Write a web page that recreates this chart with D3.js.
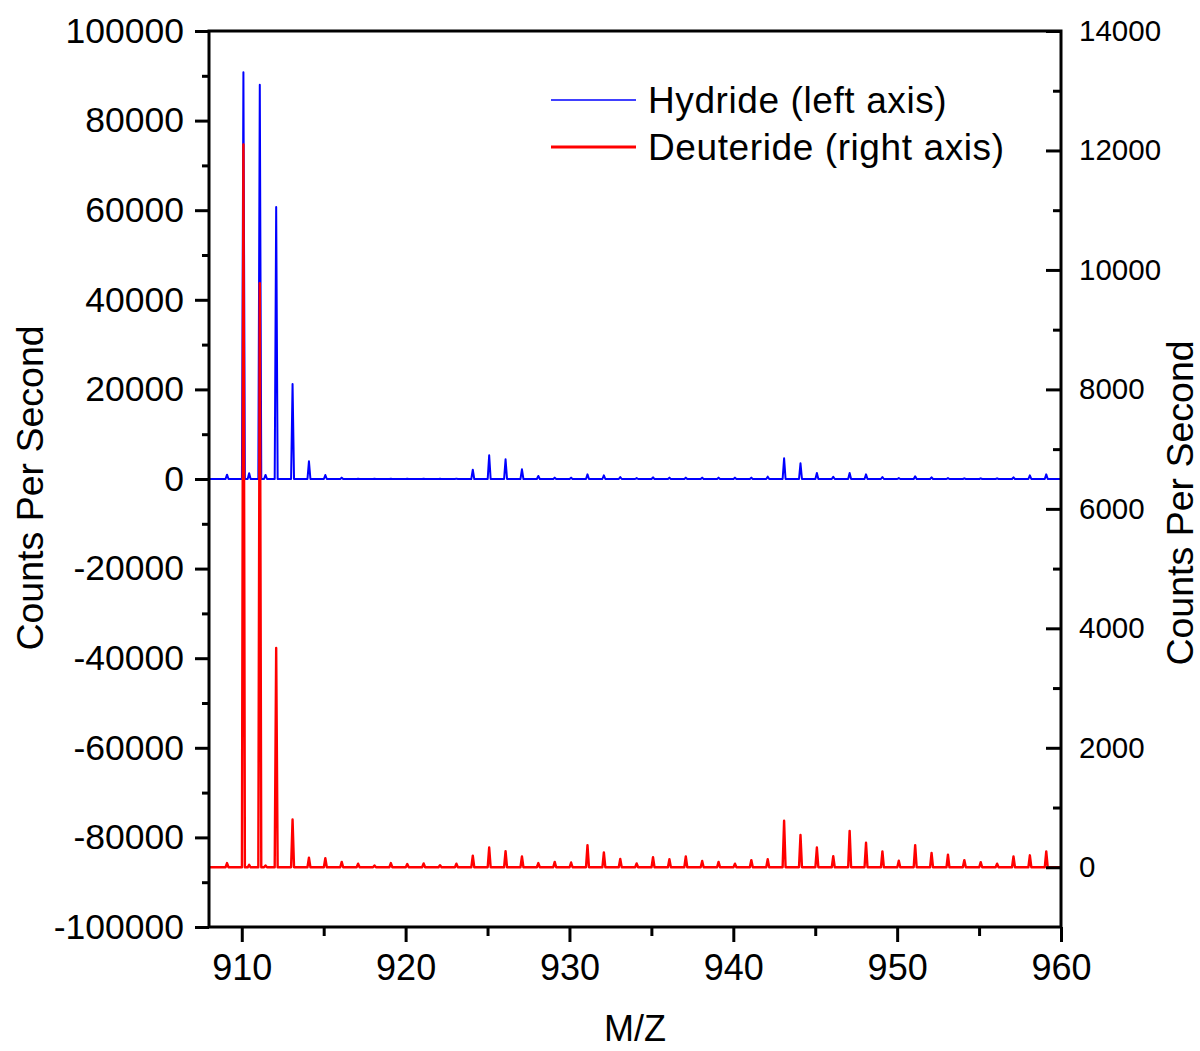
<!DOCTYPE html>
<html><head><meta charset="utf-8">
<script src="https://cdn.jsdelivr.net/npm/d3@7"></script>
<style>
body{margin:0;background:#fff;}
svg text{font-family:"Liberation Sans",Arial,sans-serif;fill:#000;}
</style></head>
<body><svg id="chart" width="1200" height="1051"></svg>
<script>
// Hydride peaks (m/z, counts per second) - left axis
const hydrideMz = [909.1,910.1,910.45,911.1,911.45,912.1,913.1,914.1,915.1,916.1,917.1,918.1,919.1,920.1,921.1,922.1,923.1,924.1,925.1,926.1,927.1,928.1,929.1,930.1,931.1,932.1,933.1,934.1,935.1,936.1,937.1,938.1,939.1,940.1,941.1,942.1,943.1,944.1,945.1,946.1,947.1,948.1,949.1,950.1,951.1,952.1,953.1,954.1,955.1,956.1,957.1,958.1,959.1];
const hydrideCps = [970,90800,1300,88000,900,60700,21200,3950,890,300,60,50,60,50,60,50,80,2080,5280,4390,2160,670,300,300,1040,820,450,200,370,300,300,300,300,300,300,520,4610,3500,1340,500,1340,1040,450,200,600,370,200,150,150,150,370,820,1040];
// Deuteride peaks (m/z, counts per second) - right axis
const deuterideMz = [909.1,910.1,910.45,911.1,911.45,912.1,913.1,914.1,915.1,916.1,917.1,918.1,919.1,920.1,921.1,922.1,923.1,924.1,925.1,926.1,927.1,928.1,929.1,930.1,931.1,932.1,933.1,934.1,935.1,936.1,937.1,938.1,939.1,940.1,941.1,942.1,943.1,944.1,945.1,946.1,947.1,948.1,949.1,950.1,951.1,952.1,953.1,954.1,955.1,956.1,957.1,958.1,959.1];
const deuterideCps = [70,12100,40,9780,30,3670,800,160,150,90,60,30,70,55,65,35,60,195,330,270,180,70,90,80,370,250,140,65,170,135,180,105,90,60,120,135,780,540,330,185,610,410,265,110,370,240,210,120,85,60,180,200,265];

const xTicks = [910,920,930,940,950,960];
const leftTicks = [100000,80000,60000,40000,20000,0,-20000,-40000,-60000,-80000,-100000];
const rightTicks = [0,2000,4000,6000,8000,10000,12000,14000];
const seriesNames = ["Hydride (left axis)","Deuteride (right axis)"];

const svg = d3.select("#chart");
const L=209, R=1061, T=31, B=927;
const x = d3.scaleLinear().domain([908,960]).range([L,R]);
const yL = d3.scaleLinear().domain([-100000,100000]).range([B,T]);
const yR = d3.scaleLinear().domain([-1000,14000]).range([B,T]);
const fmt = d => String(d);

function profile(mz, cps){
  const pts=[[908,0]];
  mz.forEach((m,i)=>{pts.push([m-0.09,0]);pts.push([m,cps[i]]);pts.push([m+0.09,0]);});
  pts.push([960,0]);
  return pts;
}
svg.append("clipPath").attr("id","clip").append("rect").attr("x",L).attr("y",T).attr("width",R-L).attr("height",B-T);

const lineL = d3.line().x(d=>x(d[0])).y(d=>yL(d[1]));
const lineR = d3.line().x(d=>x(d[0])).y(d=>yR(d[1]));
svg.append("path").attr("d",lineL(profile(hydrideMz,hydrideCps))).attr("fill","none").attr("stroke","#0000ff").attr("stroke-width",2).attr("stroke-linejoin","round").attr("clip-path","url(#clip)");
svg.append("path").attr("d",lineR(profile(deuterideMz,deuterideCps))).attr("fill","none").attr("stroke","#ff0000").attr("stroke-width",2.4).attr("stroke-linejoin","round").attr("clip-path","url(#clip)");

// frame
svg.append("rect").attr("x",L).attr("y",T).attr("width",R-L).attr("height",B-T).attr("fill","none").attr("stroke","#000").attr("stroke-width",3);

// bottom axis
const gx = svg.append("g").attr("transform",`translate(0,${B})`)
  .call(d3.axisBottom(x).tickValues(xTicks).tickSize(15).tickSizeOuter(0).tickPadding(12).tickFormat(fmt));
svg.append("g").attr("transform",`translate(0,${B})`)
  .call(d3.axisBottom(x).tickValues([915,925,935,945,955]).tickSize(9).tickSizeOuter(0).tickFormat(""));
// left axis
const gl = svg.append("g").attr("transform",`translate(${L},0)`)
  .call(d3.axisLeft(yL).tickValues(leftTicks).tickSize(14).tickSizeOuter(0).tickPadding(11).tickFormat(fmt));
svg.append("g").attr("transform",`translate(${L},0)`)
  .call(d3.axisLeft(yL).tickValues(d3.range(-90000,100000,20000)).tickSize(7).tickSizeOuter(0).tickFormat(""));
// right axis (ticks inward)
const gr = svg.append("g").attr("transform",`translate(${R},0)`)
  .call(d3.axisRight(yR).tickValues(rightTicks).tickSize(-15).tickSizeOuter(0).tickPadding(33).tickFormat(fmt));
svg.append("g").attr("transform",`translate(${R},0)`)
  .call(d3.axisRight(yR).tickValues([1000,3000,5000,7000,9000,11000,13000]).tickSize(-8).tickSizeOuter(0).tickFormat(""));

svg.selectAll(".domain").remove();
svg.selectAll(".tick line").attr("stroke","#000").attr("stroke-width",3);
gx.selectAll("text").attr("font-size",36).attr("font-family","Liberation Sans, Arial");
gl.selectAll("text").attr("font-size",35.5).attr("font-family","Liberation Sans, Arial");
gr.selectAll("text").attr("font-size",29.5).attr("font-family","Liberation Sans, Arial").attr("x",18);

// titles
svg.append("text").attr("x",635).attr("y",1041).attr("text-anchor","middle").attr("font-size",36).text("M/Z");
svg.append("text").attr("transform","translate(43,488) rotate(-90)").attr("text-anchor","middle").attr("font-size",37.5).text("Counts Per Second");
svg.append("text").attr("transform","translate(1193,503) rotate(-90)").attr("text-anchor","middle").attr("font-size",37.5).text("Counts Per Second");

// legend
const leg = [{c:"#0000ff",w:1.6,y:100},{c:"#ff0000",w:3.2,y:147}];
leg.forEach((d,i)=>{
  svg.append("line").attr("x1",551).attr("x2",636).attr("y1",d.y).attr("y2",d.y).attr("stroke",d.c).attr("stroke-width",d.w);
  svg.append("text").attr("x",648).attr("y",d.y+13).attr("font-size",37).attr("letter-spacing",0.6).text(seriesNames[i]);
});
</script></body></html>
